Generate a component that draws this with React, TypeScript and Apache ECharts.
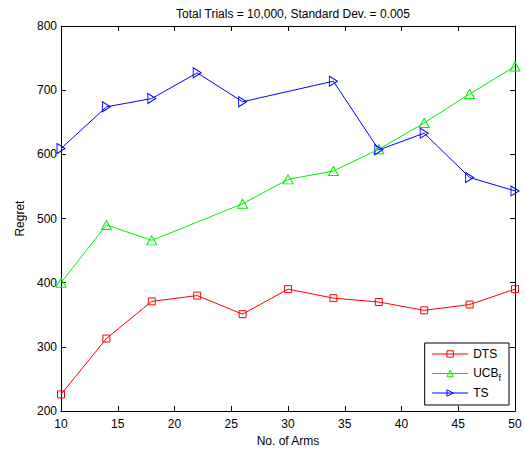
import React, { useEffect, useRef } from "react";
import * as echarts from "echarts";

const dtsX = [10, 14, 18, 22, 26, 30, 34, 38, 42, 46, 50];
const dtsY = [226, 313, 371, 380, 351, 390, 376, 370, 357, 366, 390];
const ucbX = [10, 14, 18, 26, 30, 34, 38, 42, 46, 50];
const ucbY = [400, 490, 466, 523, 561, 574, 608, 649, 694, 737];
const tsX = [10, 14, 18, 22, 26, 34, 38, 42, 46, 50];
const tsY = [609, 674, 687, 727, 682, 714, 607, 633, 564, 543];

const zip = (xs: number[], ys: number[]) => xs.map((x, i) => [x, ys[i]]);

const FONT = "Liberation Sans, Arial, Helvetica, sans-serif";

export default function App() {
  const ref = useRef<HTMLDivElement>(null);
  useEffect(() => {
    const chart = echarts.init(ref.current!, null, { renderer: "svg" });
    const axisCommon = {
      type: "value" as const,
      axisLine: { show: true, lineStyle: { color: "#000", width: 1 } },
      axisTick: { show: true, inside: true, length: 5, lineStyle: { color: "#000" } },
      splitLine: { show: false },
    };
    const mk = (name: string, data: number[][], color: string, symbol: string, size: any) => ({
      name,
      type: "line",
      data,
      symbol,
      symbolSize: size,
      showAllSymbol: true,
      lineStyle: { color, width: 1 },
      itemStyle: { color: "rgba(255,255,255,0)", borderColor: color, borderWidth: 1 },
      emphasis: { disabled: true },
    });
    chart.setOption({
      animation: false,
      backgroundColor: "#fff",
      textStyle: { fontFamily: FONT },
      title: {
        text: "Total Trials = 10,000, Standard Dev. = 0.005",
        left: 288,
        textAlign: "center",
        top: 3,
        textStyle: { fontSize: 12, fontWeight: "normal", color: "#000", fontFamily: FONT },
      },
      grid: { left: 61, right: 10, top: 26, bottom: 40 },
      xAxis: [
        {
          ...axisCommon,
          min: 10,
          max: 50,
          interval: 5,
          name: "No. of Arms",
          nameLocation: "middle",
          nameGap: 23,
          nameTextStyle: { fontSize: 12, color: "#000", fontFamily: FONT },
          axisLabel: { fontSize: 12, color: "#000", margin: 7, fontFamily: FONT },
        },
        {
          ...axisCommon,
          position: "top",
          min: 10,
          max: 50,
          interval: 5,
          axisLabel: { show: false },
        },
      ],
      yAxis: [
        {
          ...axisCommon,
          min: 200,
          max: 800,
          interval: 100,
          name: "Regret",
          nameLocation: "middle",
          nameGap: 33,
          nameTextStyle: { fontSize: 12, color: "#000", fontFamily: FONT },
          axisLabel: { fontSize: 12, color: "#000", margin: 4, fontFamily: FONT },
        },
        {
          ...axisCommon,
          position: "right",
          min: 200,
          max: 800,
          interval: 100,
          axisLabel: { show: false },
        },
      ],
      legend: {
        orient: "vertical",
        right: 16,
        top: 343,
        backgroundColor: "#fff",
        borderColor: "#000",
        borderWidth: 1,
        borderRadius: 0,
        padding: [4, 8, 5, 7],
        itemWidth: 36,
        itemHeight: 8,
        itemGap: 1,
        itemStyle: { color: "rgba(255,255,255,0)", borderWidth: 1 },
        lineStyle: { width: 1 },
        textStyle: {
          fontSize: 12,
          lineHeight: 14,
          color: "#000",
          fontFamily: FONT,
          rich: {
            m: { fontSize: 12, lineHeight: 14, fontFamily: FONT, color: "#000", verticalAlign: "top" },
            s: { fontSize: 9, lineHeight: 9, fontFamily: FONT, color: "#000", padding: [11, 0, 3, 0] },
          },
        },
        formatter: (n: string) => (n === "UCB_f" ? "{m|UCB}{s|f}" : n),
        data: ["DTS", "UCB_f", "TS"],
      },
      series: [
        mk("DTS", zip(dtsX, dtsY), "#ff0000", "rect", 7),
        mk("UCB_f", zip(ucbX, ucbY), "#00ee00", "triangle", [10, 9]),
        mk("TS", zip(tsX, tsY), "#0000ff", "path://M0,0 L8,5 L0,10 Z", [8, 10]),
      ],
    });
    return () => chart.dispose();
  }, []);
  return (
    <div
      ref={ref}
      style={{ position: "absolute", left: 0, top: 0, width: 525, height: 452 }}
    />
  );
}
